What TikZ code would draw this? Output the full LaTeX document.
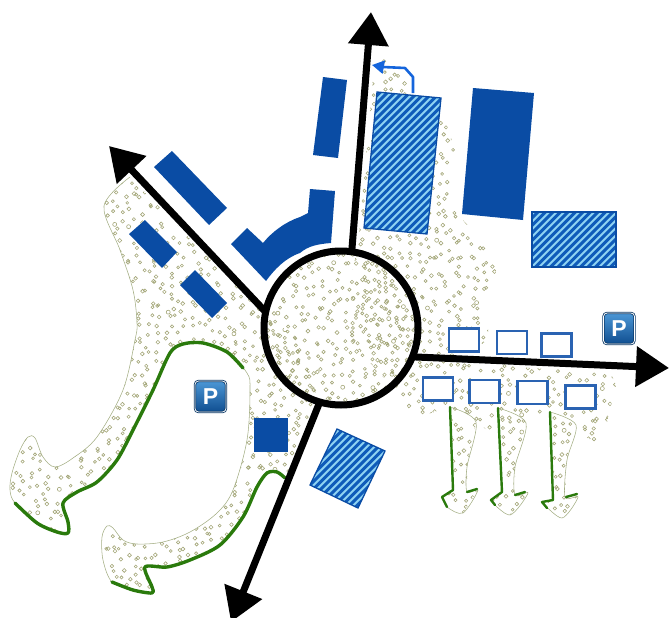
\documentclass[tikz,border=0pt]{standalone}
\usepackage{fontspec}
\setmainfont{Liberation Sans}
\usetikzlibrary{arrows.meta}
\definecolor{bldg}{HTML}{0A4CA4}
\definecolor{boxblue}{HTML}{2A63B2}
\definecolor{hatchlight}{HTML}{8FD3F2}
\definecolor{hatchdark}{HTML}{0F5CBA}
\definecolor{greenline}{HTML}{2A7A0C}
\definecolor{outl}{HTML}{A4AE84}
\definecolor{dotc}{HTML}{A3A678}
\definecolor{flow}{HTML}{1565DC}
\definecolor{HTMLtop}{HTML}{4C97D6}
\definecolor{HTMLbot}{HTML}{0F4E90}
\tikzset{
  building/.style={fill=bldg,draw=none},
  hatchedge/.style={draw=bldg,line width=1.3pt},
  unit/.style={draw=boxblue,fill=white,line width=2.1pt,inner sep=0pt,minimum width=30pt,minimum height=23pt},
  road/.style={draw=black,line width=7pt,-{Triangle[width=39pt,length=33pt]}},
  hubring/.style={circle,draw=black,line width=7pt,minimum size=154pt,inner sep=0pt,outer sep=0pt},
  edgeline/.style={draw=greenline,line cap=round,line join=round},
  thinout/.style={draw=outl,line width=.55pt},
  dot/.style={draw=dotc,line width=.6pt},
  parking/.style={rounded corners=3.5pt,minimum size=31pt,inner sep=0pt,draw=HTMLbot!70!black,line width=.8pt,double=white,double distance=.8pt,
    top color=HTMLtop,bottom color=HTMLbot,text=white,font=\bfseries\fontsize{23}{23}\selectfont}
}
\newcommand{\scatterdots}[4]{%
  \foreach \gx in {#1,\the\numexpr#1+9\relax,...,#2}{
    \foreach \gy in {#3,\the\numexpr#3+9\relax,...,#4}{
      \pgfmathsetmacro\px{\gx+5*rand}
      \pgfmathsetmacro\py{\gy+5*rand}
      \pgfmathsetmacro\pr{1.4+.6*rnd}
      \draw[dot] (\px,\py) circle[radius=\pr pt];
    }
  }
}
\newcommand{\hatchfill}[1]{%
  \begin{scope}
    \clip #1 -- cycle;
    \fill[hatchlight] (300,60) rectangle (640,530);
    \foreach \k in {300,307.5,...,1200}{
      \draw[hatchdark,line width=3pt] (\k,0) -- (\k-640,640);
    }
  \end{scope}
  \draw[hatchedge] #1 -- cycle;
}
\def\leftouter{plot[smooth,tension=.55] coordinates {(130,177)(104,206)(120,250)(133,290)(137,323)(135,340)(123,390)(97,437)(73,458)(55,467)(43,457)(35,438)(28,437)(20,450)(12,473)(10,490)(15,503)(37,523)(57,532)(68,532)(68,522)(63,503)(77,492)(97,482)(117,460)(133,430)(153,390)(170,353)(183,344)(203,343)(227,352)(247,373)(250,390)(247,440)(233,490)(217,513)(190,532)(163,542)(137,544)(123,540)(113,528)(107,526)(102,537)(103,560)(112,582)(133,590)(152,593)(152,587)(145,567)(167,567)(190,560)(220,545)(243,517)(257,487)(267,473)(277,472)(285,478)}}
\begin{document}
\begin{tikzpicture}[x=1pt,y=-1pt]
\useasboundingbox (0,0) rectangle (669,618);
\pgfmathsetseed{4217}
% dotted ground, left
\begin{scope}
  \clip \leftouter -- (320,407) -- (300,340) -- (264,314) -- cycle;
  \scatterdots{5}{325}{175}{595}
\end{scope}
% dotted ground, centre and right
\begin{scope}
  \clip (358,245) -- (375,55) -- (410,72) -- (415,100) -- (445,120) -- (455,150) -- (450,190) -- (458,215) -- (480,238) -- (497,268) -- (488,300) -- (488,340) -- (462,358) -- (530,368) -- (610,372) -- (616,385) -- (608,418) -- (602,445) -- (575,432)
   -- (576,425) -- (567,460) -- (565,497) -- (578,497) -- (562,518) -- (542,502) -- (553,500) -- (550,412) -- (528,418)
   -- (526,423) -- (515,467) -- (515,495) -- (528,493) -- (510,515) -- (490,500) -- (502,492) -- (498,408) -- (490,432)
   -- (476,422) -- (467,467) -- (467,492) -- (478,490) -- (463,513) -- (442,497) -- (453,490) -- (450,407) -- (415,418) -- (400,395) -- (340,330) -- cycle;
  \scatterdots{355}{620}{55}{520}
\end{scope}
\begin{scope}
  \clip (341,328) circle[radius=77pt];
  \scatterdots{262}{422}{250}{410}
\end{scope}
% thin outlines
\draw[thinout] \leftouter;
\draw[thinout] plot[smooth,tension=.5] coordinates {(450,407)(476,422)(467,467)(467,492)(478,490)(463,513)(447,507)(442,497)};
\draw[thinout] plot[smooth,tension=.5] coordinates {(498,408)(526,423)(515,467)(515,495)(528,493)(510,515)(490,500)};
\draw[thinout] plot[smooth,tension=.5] coordinates {(550,412)(576,425)(567,460)(565,497)(578,497)(562,518)(542,502)};
% green edges
\draw[edgeline,line width=3.4pt] plot[smooth,tension=.5] coordinates {(15,503)(37,523)(57,532)(68,533)(68,522)(63,503)(77,492)(97,482)(117,460)(133,430)(153,390)(170,353)(183,344)(203,343)(227,352)(243,368)};
\draw[edgeline,line width=3.4pt] plot[smooth,tension=.5] coordinates {(112,582)(133,590)(152,593)(152,587)(145,567)(167,567)(190,560)(220,545)(243,517)(257,487)(267,473)(277,472)(285,478)};
\draw[edgeline,line width=2.4pt] (450,407) -- (453,490) -- (442,497) -- (447,507);
\draw[edgeline,line width=2.4pt] (467,492) -- (477,489);
\draw[edgeline,line width=2.4pt] (498,408) -- (502,492) -- (491,500) -- (495,505);
\draw[edgeline,line width=2.4pt] (515,495) -- (525,492);
\draw[edgeline,line width=2.4pt] (550,412) -- (553,500) -- (542,502) -- (547,508);
\draw[edgeline,line width=2.4pt] (566,497) -- (577,494);
% solid buildings
\fill[building] (172,151) -- (227,208) -- (209,225) -- (154,167) -- cycle;
\fill[building] (145,220) -- (177,252) -- (162,268) -- (129,234) -- cycle;
\fill[building] (195,270) -- (227,303) -- (212,318) -- (180,285) -- cycle;
\fill[building] (310,189) -- (335,191) -- (331,243) .. controls (318,244) and (308,246) .. (300,253) .. controls (285,258) and (274,270) .. (266,281) -- (231,244) -- (247,228) -- (263,243) .. controls (272,232) and (285,222) .. (300,217) -- (308,213) -- cycle;
\fill[building] (323,77) -- (347,80) -- (338,158) -- (313,155) -- cycle;
\fill[building] (473,88) -- (534,93) -- (523,220) -- (462,214) -- cycle;
\fill[building] (254,418) -- (288,418) -- (288,452) -- (254,452) -- cycle;
% hatched buildings
\hatchfill{(377,92) -- (441,98) -- (427,234) -- (364,228)}
\hatchfill{(532,212) -- (616,212) -- (616,267) -- (532,267)}
\hatchfill{(337,429) -- (385,451) -- (358,508) -- (310,485)}
% flow arrow
\coordinate (flowstart) at (413,93);
\coordinate (flowend) at (372,65);
\draw[flow,line width=2.6pt,line join=round,-{Triangle[width=13pt,length=12pt]}] (flowstart) -- (413,77) -- (405,68) -- (383,67) -- (flowend);
% small units
\node[unit] (u1) at (464,340) {};
\node[unit] (u2) at (512,342.5) {};
\node[unit] (u3) at (556.5,345) {};
\node[unit] (u4) at (438,389) {};
\node[unit] (u5) at (484.5,391.5) {};
\node[unit] (u6) at (532.5,392.5) {};
\node[unit] (u7) at (580.5,397) {};
% parking
\node[parking] (p1) at (210.5,396.5) {P};
\node[parking] (p2) at (619,328.5) {P};
% hub and roads
\node[hubring] (hub) at (341,328) {};
\coordinate (tipn) at (371,12);
\coordinate (tipnw) at (109,146);
\coordinate (tipe) at (669,368);
\coordinate (tips) at (231,622);
\draw[road] (hub.82) -- (tipn);
\draw[road] (hub.168) -- (tipnw);
\draw[road] (hub.-22) -- (tipe);
\draw[road] (hub.254) -- (tips);
\end{tikzpicture}
\end{document}
